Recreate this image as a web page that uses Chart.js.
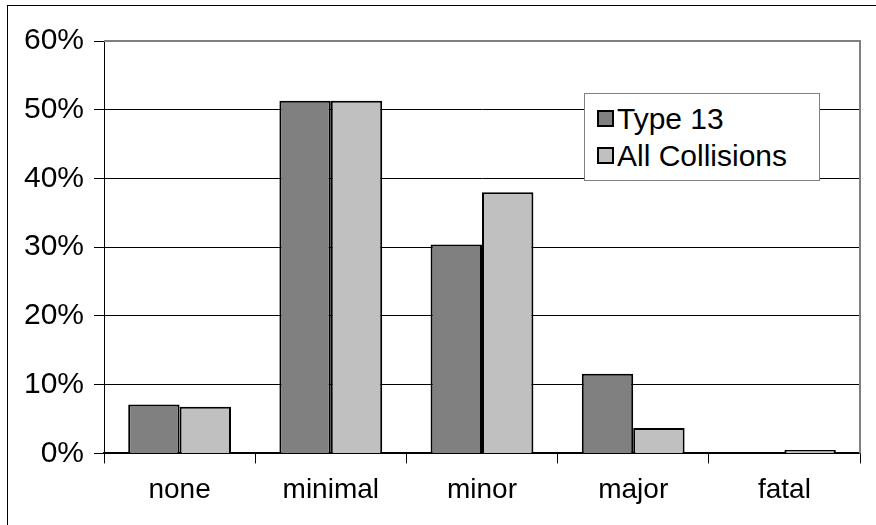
<!DOCTYPE html>
<html>
<head>
<meta charset="utf-8">
<script src="https://cdn.jsdelivr.net/npm/chart.js@4/dist/chart.umd.min.js"></script>
<style>
  html, body { margin: 0; padding: 0; background: #fff; }
  #wrap { position: relative; width: 876px; height: 525px; }
  #frame { position: absolute; left: 7px; top: 5px; width: 880px; height: 540px; border: 1px solid #000; box-sizing: border-box; }
  #legend {
    position: absolute; left: 584px; top: 93px; width: 236px; height: 88px;
    border: 1px solid #808080; background: #fff; box-sizing: border-box;
    font-family: 'Liberation Sans', Arial, sans-serif; font-size: 30px; color: #000;
    padding: 6px 0 0 12px;
  }
  #legend .item { display: flex; align-items: center; height: 37px; }
  #legend .sw { width: 17px; height: 17px; border: 2px solid #000; box-sizing: border-box; margin-right: 3px; }
</style>
</head>
<body>
<div id="wrap">
  <canvas id="chart" width="876" height="525"></canvas>
  <div id="frame"></div>
  <div id="legend"></div>
</div>
<script>
var categories = ["none", "minimal", "minor", "major", "fatal"]
var type13 = [7.1, 51.3, 30.4, 11.6, 0]
var allCollisions = [6.8, 51.3, 38.0, 3.7, 0.5]
var yTicks = [0, 10, 20, 30, 40, 50, 60]

var fontFamily = "'Liberation Sans', Arial, sans-serif"

// gray frame round the plot area, like the old spreadsheet chart
var plotFrame = {
    id: 'plotFrame',
    afterDraw: function (chart) {
        var a = chart.chartArea
        var ctx = chart.ctx
        ctx.save()
        ctx.strokeStyle = '#808080'
        ctx.lineWidth = 2
        ctx.beginPath()
        ctx.moveTo(a.left, a.top)
        ctx.lineTo(a.right, a.top)
        ctx.lineTo(a.right, a.bottom)
        ctx.stroke()
        ctx.restore()
    }
}

var chart = new Chart(document.getElementById('chart'), {
    type: 'bar',
    data: {
        labels: categories,
        datasets: [
            {
                label: "Type 13",
                backgroundColor: '#808080',
                borderColor: '#000',
                borderWidth: 2,
                data: type13
            },
            {
                label: "All Collisions",
                backgroundColor: '#c0c0c0',
                borderColor: '#000',
                borderWidth: 2,
                data: allCollisions
            }
        ]
    },
    options: {
        responsive: false,
        animation: false,
        layout: {padding: {top: 41, right: 16, bottom: 8, left: 0}},
        datasets: {bar: {categoryPercentage: 0.68, barPercentage: 1}},
        plugins: {
            legend: {display: false},
            tooltip: {enabled: false}
        },
        scales: {
            x: {
                grid: {
                    drawOnChartArea: false,
                    drawTicks: true,
                    tickLength: 10,
                    color: '#000',
                    lineWidth: 1
                },
                border: {color: '#000', width: 2},
                ticks: {
                    color: '#000',
                    padding: 10,
                    font: {size: 28, family: fontFamily}
                }
            },
            y: {
                min: 0,
                max: 60,
                afterBuildTicks: function (axis) {
                    axis.ticks = yTicks.map(function (v) { return {value: v} })
                },
                afterFit: function (axis) { axis.width = 104 },
                grid: {
                    color: '#000',
                    lineWidth: 1,
                    tickLength: 10
                },
                border: {color: '#000', width: 1},
                ticks: {
                    color: '#000',
                    padding: 10,
                    font: {size: 30, family: fontFamily},
                    callback: function (v) { return v + '%' }
                }
            }
        }
    },
    plugins: [plotFrame]
})

// html legend built from the datasets
var legendEl = document.getElementById('legend')
chart.data.datasets.forEach(function (ds) {
    var item = document.createElement('div')
    item.className = 'item'
    var sw = document.createElement('span')
    sw.className = 'sw'
    sw.style.background = ds.backgroundColor
    var txt = document.createElement('span')
    txt.textContent = ds.label
    item.appendChild(sw)
    item.appendChild(txt)
    legendEl.appendChild(item)
})
</script>
</body>
</html>
